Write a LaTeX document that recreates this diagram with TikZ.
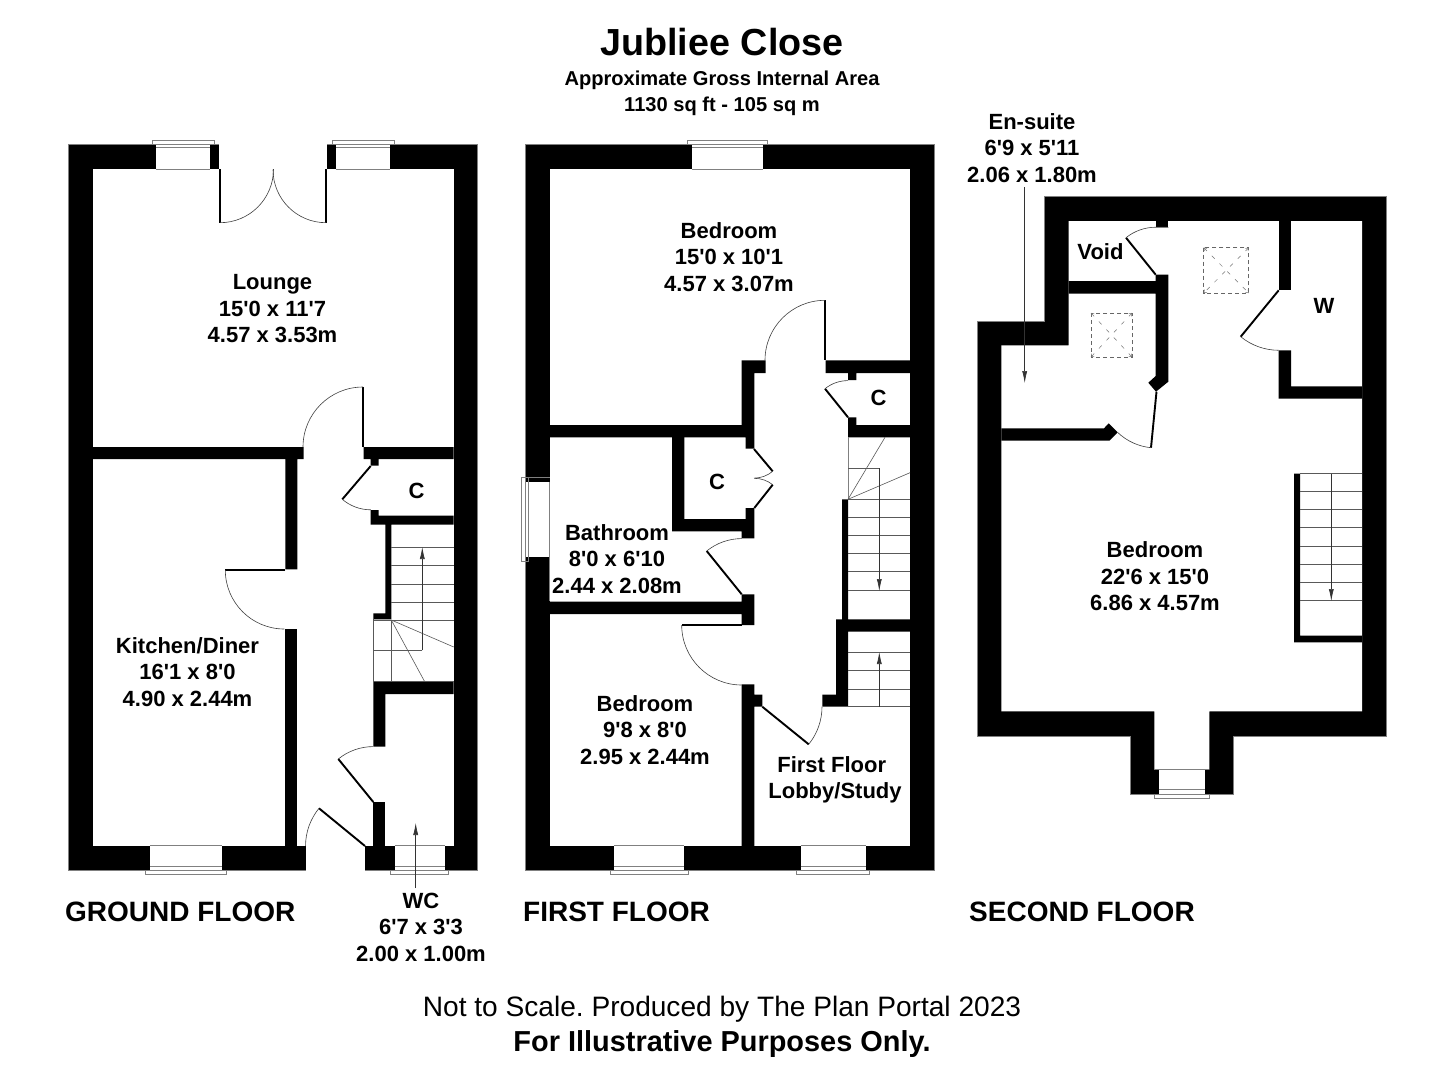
\documentclass[tikz,border=0pt]{standalone}
\usepackage{fontspec}
\usetikzlibrary{arrows.meta}
\newfontfamily\libsans{Liberation Sans}
\definecolor{edgegrey}{gray}{0.5}
\tikzset{
  x=1pt,y=-1pt,
  outerwall/.style={fill=black,draw=edgegrey,line width=0.5pt},
  wallpart/.style={fill=black},
  roomfill/.style={fill=white},
  gapfill/.style={fill=white},
  leaf/.style={draw=black,line width=1.9pt},
  swing/.style={draw=black!75,line width=0.6pt},
  tread/.style={draw=black!65,line width=0.6pt},
  glass/.style={draw=edgegrey,line width=0.6pt},
  sill/.style={fill=white,draw=edgegrey,line width=0.6pt},
  runline/.style={draw=black!80,line width=0.6pt,-{Latex[length=12pt,width=5pt]}},
  skyframe/.style={draw=black!60,line width=0.5pt,dash pattern=on 4pt off 3pt},
  skydiag/.style={draw=black!55,line width=0.5pt,dash pattern=on 4pt off 7pt,{To[length=3pt,width=4pt]}-{To[length=3pt,width=4pt]}},
  lbl/.style={font=\libsans\bfseries\fontsize{22}{26.5}\selectfont,align=center,inner sep=0pt,text=black},
  floorlbl/.style={font=\libsans\bfseries\fontsize{28}{32}\selectfont,anchor=west,inner sep=0pt},
}
\newcommand\wintop[4]{%
  \fill[gapfill] (#1,143) rectangle (#2,169.5);
  \draw[glass] (#1,169) -- (#2,169) (#1,147.3) -- (#2,147.3);
  \draw[sill] (#3,140.3) rectangle (#4,144.3);}
\newcommand\winbot[4]{%
  \fill[gapfill] (#1,845.5) rectangle (#2,871);
  \draw[glass] (#1,845.7) -- (#2,845.7) (#1,866) -- (#2,866);
  \draw[glass] (#1,870) -- (#2,870);
  \draw[sill] (#3,870) rectangle (#4,874);}
\begin{document}
\begin{tikzpicture}
\useasboundingbox[fill=white] (0,0) rectangle (1444,1080);

% ---------- GROUND FLOOR ----------
\draw[outerwall] (68.3,144.3) rectangle (477.7,870);
\fill[roomfill] (93,169) rectangle (453.7,845.7);
\fill[gapfill] (219,143) rectangle (327,170);
\fill[gapfill] (306,845) rectangle (365.3,871);
\wintop{156.3}{210}{152.3}{214.7}
\wintop{336.3}{390}{332}{394.3}
\winbot{150}{222.3}{145.3}{226.3}
\winbot{394.7}{444.7}{390.7}{448.3}
\fill[wallpart] (93,447) -- (303.7,447) -- (303.7,459) -- (297.3,459) -- (297.3,569.3) -- (285.3,569.3) -- (285.3,459) -- (93,459) -- cycle;
\fill[wallpart] (285.3,628.7) rectangle (297.3,846);
\fill[wallpart] (363.7,447) -- (453.7,447) -- (453.7,459) -- (378.7,459) -- (378.7,465.7) -- (370.7,465.7) -- (370.7,459) -- (363.7,459) -- cycle;
\fill[wallpart] (370.7,510) -- (378.7,510) -- (378.7,515.7) -- (453.7,515.7) -- (453.7,524.7) -- (391.3,524.7) -- (391.3,619.3) -- (373.3,619.3) -- (373.3,613.3) -- (385.3,613.3) -- (385.3,524.7) -- (370.7,524.7) -- cycle;
\fill[wallpart] (373.3,681.7) -- (453.7,681.7) -- (453.7,694) -- (385.3,694) -- (385.3,746.7) -- (373.3,746.7) -- cycle;
\fill[wallpart] (373.3,802) rectangle (385.3,846);
% doors
\draw[leaf] (220,169) -- (220,222.7);
\draw[swing] (220,222.7) arc[start angle=90,end angle=0,radius=53.5];
\draw[leaf] (326,169) -- (326,222.7);
\draw[swing] (326,222.7) arc[start angle=90,end angle=180,radius=53];
\draw[leaf] (363,387) -- (363,447);
\draw[swing] (363,387) arc[start angle=270,end angle=180,radius=60];
\draw[leaf] (285.3,570) -- (225.3,570);
\draw[swing] (225.3,570) arc[start angle=180,end angle=90,radius=59];
\draw[leaf] (370.7,466) -- (342.3,499.3);
\draw[swing] (342.3,499.3) arc[start angle=130.5,end angle=90,radius=43.8];
\draw[leaf] (373.3,802) -- (338.3,759);
\draw[swing] (338.3,759) arc[start angle=230.9,end angle=270,radius=55.4];
\draw[leaf] (365,846) -- (319,808.3);
\draw[swing] (319,808.3) arc[start angle=219.3,end angle=180,radius=59.5];
% stairs
\foreach \yy in {547.7,565.7,584,602} \draw[tread] (391.3,\yy) -- (453.7,\yy);
\draw[tread] (373.3,620.3) -- (453.7,620.3);
\draw[tread] (373.3,619.3) -- (373.3,681.7) -- (453.7,681.7);
\draw[tread] (391.3,620) -- (391.3,681.7);
\draw[tread] (391.3,620) -- (453.7,647);
\draw[tread] (391.3,620) -- (424.7,681.7);
\coordinate (gturn) at (422.3,650.3);
\coordinate (gtip) at (422.3,547);
\coordinate (gstart) at (373.3,650.3);
\draw[tread] (gstart) -- (gturn);
\draw[runline] (gturn) -- (gtip);
% labels
\node[lbl] (lounge) at (272.5,309) {Lounge\\15'0 x 11'7\\4.57 x 3.53m};
\node[lbl] (kitchen) at (187.5,672) {Kitchen/Diner\\16'1 x 8'0\\4.90 x 2.44m};
\node[lbl] (cground) at (416.5,491) {C};
\node[lbl] (wc) at (421,927) {WC\\6'7 x 3'3\\2.00 x 1.00m};
\coordinate (wctail) at (415.7,888);
\coordinate (wctip) at (415.7,823);
\draw[runline] (wctail) -- (wctip);
\node[floorlbl] (groundfloor) at (65,912) {GROUND FLOOR};

% ---------- FIRST FLOOR ----------
\draw[outerwall] (525.3,144.3) rectangle (934.3,870);
\fill[roomfill] (549.7,169) rectangle (910,845.7);
\wintop{692.3}{763.3}{687.7}{767.7}
\winbot{614.3}{684}{610.3}{688.3}
\winbot{800.7}{865.7}{796.7}{869.7}
\fill[gapfill] (524.5,481.7) rectangle (550,556.7);
\draw[glass] (549.7,481.7) -- (549.7,601);
\draw[glass] (528,477.7) -- (528,561.7);
\draw[sill] (521.7,477.7) rectangle (525.3,561.7);
\draw[glass] (521.7,477.7) -- (549.7,477.7) (521.7,561.7) -- (528,561.7);
\fill[wallpart] (549.7,425) -- (741.7,425) -- (741.7,360.3) -- (765.7,360.3) -- (765.7,373) -- (754.3,373) -- (754.3,448.7) -- (745.7,448.7) -- (745.7,437.3) -- (549.7,437.3) -- cycle;
\fill[wallpart] (825.7,360.3) -- (910,360.3) -- (910,373) -- (856.3,373) -- (856.3,380) -- (848,380) -- (848,373) -- (825.7,373) -- cycle;
\fill[wallpart] (848,417.3) -- (856.3,417.3) -- (856.3,425) -- (910,425) -- (910,437.3) -- (848,437.3) -- cycle;
\fill[wallpart] (672,437) -- (684.3,437) -- (684.3,519) -- (745.7,519) -- (745.7,508) -- (754.3,508) -- (754.3,538.3) -- (741.7,538.3) -- (741.7,531.3) -- (672,531.3) -- cycle;
\fill[wallpart] (741.7,594.3) -- (754.3,594.3) -- (754.3,625) -- (741.7,625) -- (741.7,614) -- (549.7,614) -- (549.7,601.7) -- (741.7,601.7) -- cycle;
\fill[wallpart] (741.7,684.3) -- (754.3,684.3) -- (754.3,694.7) -- (762.3,694.7) -- (762.3,706.7) -- (754.3,706.7) -- (754.3,846) -- (741.7,846) -- cycle;
\fill[wallpart] (842,499.3) -- (848,499.3) -- (848,619.3) -- (910,619.3) -- (910,631.7) -- (848,631.7) -- (848,706.7) -- (822.3,706.7) -- (822.3,694.7) -- (836,694.7) -- (836,619.3) -- (842,619.3) -- cycle;
\draw[glass] (848,437.3) -- (848,499.3);
% doors
\draw[leaf] (825,300.3) -- (825,360.3);
\draw[swing] (825,300.3) arc[start angle=270,end angle=180,radius=60];
\draw[leaf] (848,417.3) -- (825,388.7);
\draw[swing] (825,388.7) arc[start angle=231.2,end angle=270,radius=36.7];
\draw[leaf] (754,449) -- (772.7,471.3);
\draw[swing] (772.7,471.3) arc[start angle=50,end angle=90,radius=29.1];
\draw[leaf] (754.3,508) -- (772.7,484.7);
\draw[swing] (772.7,484.7) arc[start angle=-51.7,end angle=-90,radius=29.7];
\draw[leaf] (741.7,594.3) -- (706.7,551);
\draw[swing] (706.7,551) arc[start angle=231,end angle=270,radius=55.7];
\draw[leaf] (741.7,625) -- (681.7,625);
\draw[swing] (681.7,625) arc[start angle=180,end angle=90,radius=60];
\draw[leaf] (762.3,706.7) -- (808.7,744.3);
\draw[swing] (808.7,744.3) arc[start angle=39,end angle=0,radius=59.7];
% stairs
\foreach \yy in {499.3,517.3,535.7,553.7,571.7,590} \draw[tread] (848,\yy) -- (910,\yy);
\draw[tread] (848,499.3) -- (885,437.3);
\draw[tread] (848,499.3) -- (910,472.7);
\coordinate (fcorner) at (879.3,468.3);
\coordinate (fleft) at (848,468.3);
\coordinate (ftip) at (879.3,591);
\draw[tread] (fleft) -- (fcorner);
\draw[runline] (fcorner) -- (ftip);
\foreach \yy in {652.7,670.7,689,706.7} \draw[tread] (848,\yy) -- (910,\yy);
\coordinate (f2tail) at (879.3,706.7);
\coordinate (f2tip) at (879.3,652);
\draw[runline] (f2tail) -- (f2tip);
% labels
\node[lbl] (bedone) at (729,257) {Bedroom\\15'0 x 10'1\\4.57 x 3.07m};
\node[lbl] (bath) at (617,559) {Bathroom\\8'0 x 6'10\\2.44 x 2.08m};
\node[lbl] (bedtwo) at (645,730) {Bedroom\\9'8 x 8'0\\2.95 x 2.44m};
\node[lbl] (lobby) at (835,780) {First Floor\kern6.6pt\\Lobby/Study};
\node[lbl] (cfirsta) at (878.5,398) {C};
\node[lbl] (cfirstb) at (717,482) {C};
\node[floorlbl] (firstfloor) at (523,912) {FIRST FLOOR};

% ---------- SECOND FLOOR ----------
\draw[outerwall] (1044,196.7) -- (1386.3,196.7) -- (1386.3,736) -- (1233.7,736) -- (1233.7,794) -- (1130,794) -- (1130,736) -- (977.3,736) -- (977.3,321.3) -- (1044,321.3) -- cycle;
\fill[roomfill] (1068.7,221) -- (1362,221) -- (1362,711.3) -- (1209.3,711.3) -- (1209.3,769.7) -- (1154.3,769.7) -- (1154.3,711.3) -- (1001.3,711.3) -- (1001.3,345.3) -- (1068.7,345.3) -- cycle;
\fill[gapfill] (1158.7,769) rectangle (1205,795);
\draw[glass] (1154.3,769.7) -- (1209.3,769.7) (1158.7,789.3) -- (1205,789.3) (1158.7,794) -- (1205,794);
\draw[sill] (1154.3,794) rectangle (1209.3,798.3);
\fill[wallpart] (1068.7,281) -- (1155.7,281) -- (1155.7,274.7) -- (1168.3,274.7) -- (1168.3,381.7) -- (1156,391.7) -- (1148.3,382.7) -- (1155.7,376) -- (1155.7,293.7) -- (1068.7,293.7) -- cycle;
\fill[wallpart] (1155.7,221) rectangle (1168.3,227.3);
\fill[wallpart] (1278.7,221) rectangle (1291,290.3);
\fill[wallpart] (1278.7,350.3) -- (1291,350.3) -- (1291,386.3) -- (1362,386.3) -- (1362,398.7) -- (1278.7,398.7) -- cycle;
\fill[wallpart] (1001.3,428.3) -- (1104,428.3) -- (1108.7,423.3) -- (1117.7,432.3) -- (1109.3,440.7) -- (1001.3,440.7) -- cycle;
\fill[wallpart] (1294,473.7) -- (1300,473.7) -- (1300,635.7) -- (1362,635.7) -- (1362,642.3) -- (1294,642.3) -- cycle;
% doors
\draw[leaf] (1155.7,274.7) -- (1126,237.7);
\draw[swing] (1126,237.7) arc[start angle=231.2,end angle=270,radius=47.4] -- (1168.3,227.3);
\draw[leaf] (1278.7,290.3) -- (1240.7,336.7);
\draw[swing] (1240.7,336.7) arc[start angle=129.3,end angle=90,radius=60];
\draw[leaf] (1156.5,391.7) -- (1151,447.7);
\draw[swing] (1151,447.7) arc[start angle=95.6,end angle=133.7,radius=56.3];
% stairs
\foreach \yy in {473.7,491.7,509.7,527.7,546,564,582,600} \draw[tread] (1300,\yy) -- (1362,\yy);
\coordinate (stail) at (1331.3,473.7);
\coordinate (stip) at (1331.3,601);
\draw[runline] (stail) -- (stip);
% skylights
\draw[skyframe] (1203.7,247.7) rectangle (1248.7,293);
\draw[skydiag] (1203.7,247.7) -- (1248.7,293);
\draw[skydiag] (1248.7,247.7) -- (1203.7,293);
\draw[skyframe] (1091,313) rectangle (1132,357);
\draw[skydiag] (1091,313) -- (1132,357);
\draw[skydiag] (1132,313) -- (1091,357);
% labels
\node[lbl] (ensuite) at (1032,148) {En-suite\\6'9 x 5'11\\2.06 x 1.80m};
\coordinate (ensuitetail) at (1024.7,187);
\coordinate (ensuitetip) at (1024.7,383);
\draw[runline] (ensuitetail) -- (ensuitetip);
\node[lbl] (void) at (1100.5,252) {Void};
\node[lbl] (wardrobe) at (1324,306) {W};
\node[lbl] (bedthree) at (1155,576.5) {Bedroom\\22'6 x 15'0\\6.86 x 4.57m};
\node[floorlbl] (secondfloor) at (969,912) {SECOND FLOOR};

% ---------- HEADINGS ----------
\node[font=\libsans\bfseries\fontsize{37.7}{42}\selectfont,inner sep=0pt] (title) at (722,42) {Jubliee Close};
\node[font=\libsans\bfseries\fontsize{20.1}{26}\selectfont,align=center,inner sep=0pt] (area) at (722,93) {Approximate Gross Internal Area\\1130 sq ft - 105 sq m};
\node[font=\libsans\fontsize{28.1}{32}\selectfont\frenchspacing,inner sep=0pt] (scale) at (722,1009) {Not to Scale. Produced by The Plan Portal 2023};
\node[font=\libsans\bfseries\fontsize{28.9}{32}\selectfont,inner sep=0pt] (purposes) at (722,1044) {For Illustrative Purposes Only.};
\end{tikzpicture}
\end{document}
